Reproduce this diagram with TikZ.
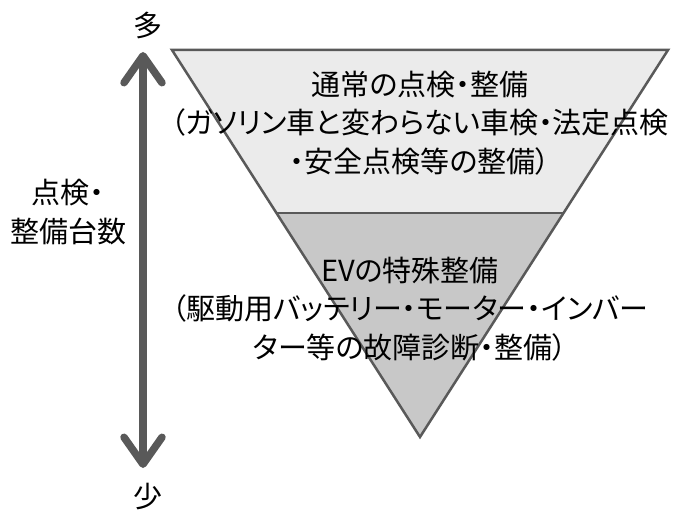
\documentclass[tikz,border=0pt]{standalone}
\usepackage{fontspec}
\setmainfont{Noto Sans CJK JP}[RawFeature={+palt}]
\usetikzlibrary{arrows.meta}
\definecolor{edge}{HTML}{595959}
\definecolor{upfill}{HTML}{EBEBEB}
\definecolor{lowfill}{HTML}{C8C8C8}
\tikzset{
  lbl/.style={font=\fontsize{29}{38.5}\selectfont, align=center, inner sep=0pt, text=black},
  outline/.style={draw=edge, line width=2.5pt, line join=miter},
  bigarrow/.style={draw=edge, line width=7.5pt,
    {Straight Barb[length=27pt,width=38pt,round]}-{Straight Barb[length=27pt,width=38pt,round]}}
}
\begin{document}
\begin{tikzpicture}[x=1pt,y=-1pt]
\useasboundingbox (0,0) rectangle (674,513);
% triangle geometry
\coordinate (TL) at (172,50);
\coordinate (TR) at (668,50);
\coordinate (AP) at (420,437);
\coordinate (ML) at (276,213);
\coordinate (MR) at (564,213);
\fill[upfill] (TL) -- (TR) -- (MR) -- (ML) -- cycle;
\fill[lowfill] (ML) -- (MR) -- (AP) -- cycle;
\draw[outline] (TL) -- (TR) -- (AP) -- cycle;
\draw[outline] (ML) -- (MR);
% arrow
\coordinate (atop) at (143,52);
\coordinate (abot) at (143,468);
\draw[bigarrow] (atop) -- (abot);
% labels
\node[lbl] (many) at (148,25) {多};
\node[lbl] (few) at (148,497) {少};
\node[lbl] (count) at (68,212) {点検・\\整備台数};
\node[lbl] (upper) at (420,123) {通常の点検・整備\\（ガソリン車と変わらない車検・法定点検\\・安全点検等の整備）};
\node[lbl] (lower) at (410,309) {EVの特殊整備\\（駆動用バッテリー・モーター・インバー\\ター等の故障診断・整備）};
\end{tikzpicture}
\end{document}
